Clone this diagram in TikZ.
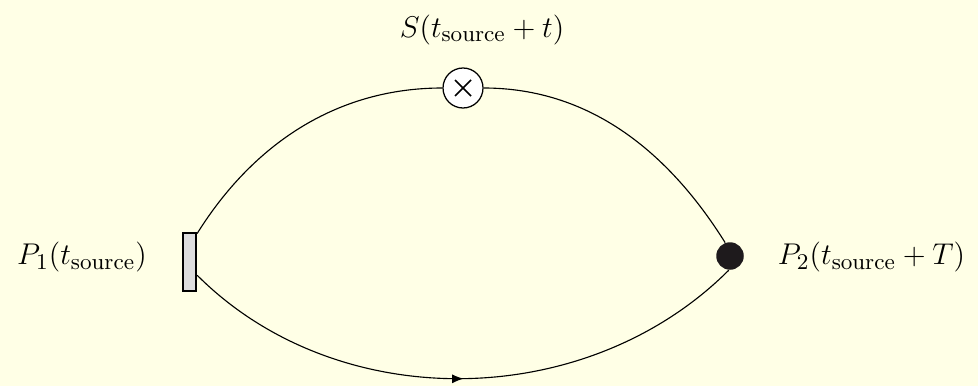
\documentclass[tikz,border=0pt]{standalone}
\usetikzlibrary{decorations.markings,arrows.meta}
\definecolor{bgcream}{RGB}{255,255,230}
\definecolor{boxgray}{RGB}{221,221,221}
\definecolor{dotblack}{RGB}{30,26,28}
\begin{document}
\begin{tikzpicture}[x=0.4pt,y=-0.4pt,
  prop/.style={line width=0.45pt},
  srcbox/.style={draw,line width=0.9pt,fill=boxgray,rectangle,inner sep=0pt,minimum width=5.2pt,minimum height=23.2pt},
  crossnode/.style={draw,line width=0.5pt,fill=white,circle,inner sep=0pt,minimum size=16pt,
    path picture={\draw[line width=0.6pt] (path picture bounding box.center) ++(-8,-8) -- ++(16,16);
                  \draw[line width=0.6pt] (path picture bounding box.center) ++(-8,8) -- ++(16,-16);}},
  sinknode/.style={circle,fill=dotblack,inner sep=0pt,minimum size=11pt},
  lab/.style={font=\fontsize{12.2}{14}\selectfont}]
\fill[bgcream] (0,0) rectangle (978,386);
\useasboundingbox (0,0) rectangle (978,386);
\node[srcbox] (src) at (189.5,262) {};
\node[crossnode] (cross) at (463,88) {};
\node[sinknode] (sink) at (730,256) {};
\draw[prop] (src.75) to[out=58,in=180,looseness=0.95] (cross.west);
\draw[prop] (cross.east) to[out=0,in=122,looseness=0.95] (sink.110);
\draw[prop,postaction={decorate},decoration={markings,mark=at position 0.5 with {\arrow{Latex[length=4.6pt,width=3.6pt]}}}]
  (src.-60) to[out=-45,in=-135,looseness=0.96] (sink.-95);
\node[lab] (slab) at (482,30) {$S(t_{\rm source}+t)$};
\node[lab] (p1lab) at (82,257) {$P_1(t_{\rm source})$};
\node[lab] (p2lab) at (871.5,257) {$P_2(t_{\rm source}+T)$};
\end{tikzpicture}
\end{document}
